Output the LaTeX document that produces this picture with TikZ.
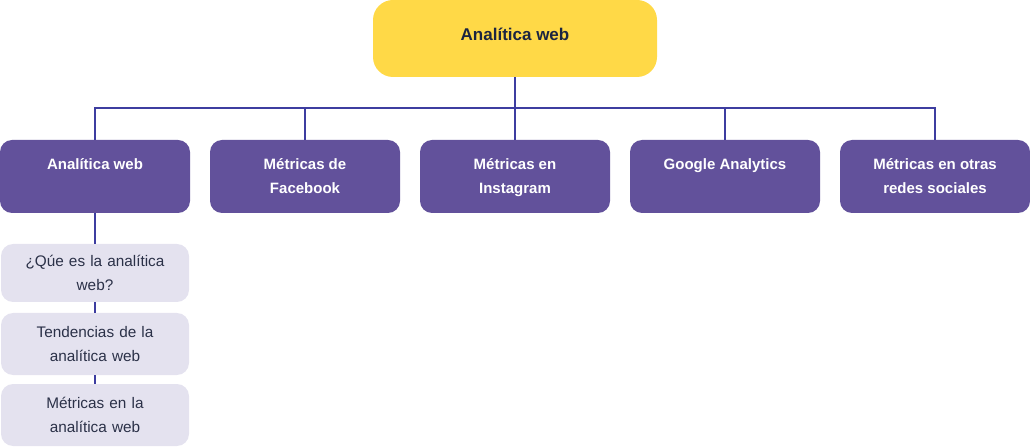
\documentclass[tikz,border=0pt]{standalone}
\usepackage{fontspec}
\setmainfont{Liberation Sans}

\definecolor{topyellow}{HTML}{FFD947}
\definecolor{topnavy}{HTML}{1C2541}
\definecolor{mainpurple}{HTML}{62519B}
\definecolor{linkblue}{HTML}{3D3DA0}
\definecolor{sublilac}{HTML}{E4E2EF}
\definecolor{subtext}{HTML}{2B3148}

% text set at the top of a box of fixed height
\newcommand{\toptext}[3]{\parbox[c][#1][t]{#2}{\centering\strut #3\strut}}

\begin{document}
\begin{tikzpicture}[x=0.75pt,y=-0.75pt]

      \useasboundingbox (0,0) rectangle (1030,448);

      \begin{scope}[every node/.style={fill=topyellow,text=topnavy,rounded corners=15pt,
          minimum width=213pt,minimum height=57.75pt,inner xsep=0pt,inner ysep=17.625pt,
          font=\fontsize{12.75}{18}\selectfont\bfseries}]
        \node (web) at (515,38.5) {\toptext{22.5pt}{200pt}{Analítica web}};
      \end{scope}

      \begin{scope}[every node/.style={fill=mainpurple,text=white,rounded corners=9pt,
          minimum width=142.5pt,minimum height=54.75pt,inner xsep=0pt,inner ysep=9.375pt,
          font=\fontsize{11.25}{18}\selectfont\bfseries}]
        \node (analitica) at (95,176.5) {\toptext{36pt}{135pt}{Analítica web}};
        \node (facebook) at (305,176.5) {\toptext{36pt}{135pt}{Métricas de\\Facebook}};
        \node (instagram) at (515,176.5) {\toptext{36pt}{135pt}{Métricas en\\Instagram}};
        \node (google) at (725,176.5) {\toptext{36pt}{135pt}{Google Analytics}};
        \node (redes) at (935,176.5) {\toptext{36pt}{135pt}{Métricas en otras\\redes sociales}};
      \end{scope}

      \begin{scope}[every node/.style={fill=sublilac,text=subtext,rounded corners=9pt,
          minimum width=141pt,text width=135pt,align=center,inner xsep=3pt,
          font=\fontsize{11.5}{18}\selectfont}]
        \node[minimum height=43.5pt] (que) at (95,273) {¿Qúe es la analítica\\web?};
        \node[minimum height=46.5pt] (tendencias) at (95,344) {Tendencias de la\\analítica web};
        \node[minimum height=46.5pt] (metricas) at (95,415) {Métricas en la\\analítica web};
      \end{scope}

      \coordinate (bus) at (515,108);

      \begin{scope}[every path/.style={draw=linkblue,line width=1.5pt}]
        \path (web) -- (bus);
        \path (bus) -| (analitica.north);
        \path (bus) -| (facebook.north);
        \path (bus) -- (instagram.north);
        \path (bus) -| (google.north);
        \path (bus) -| (redes.north);
        \path (analitica) -- (que);
        \path (que) -- (tendencias);
        \path (tendencias) -- (metricas);
      \end{scope}

    \end{tikzpicture}
\end{document}
